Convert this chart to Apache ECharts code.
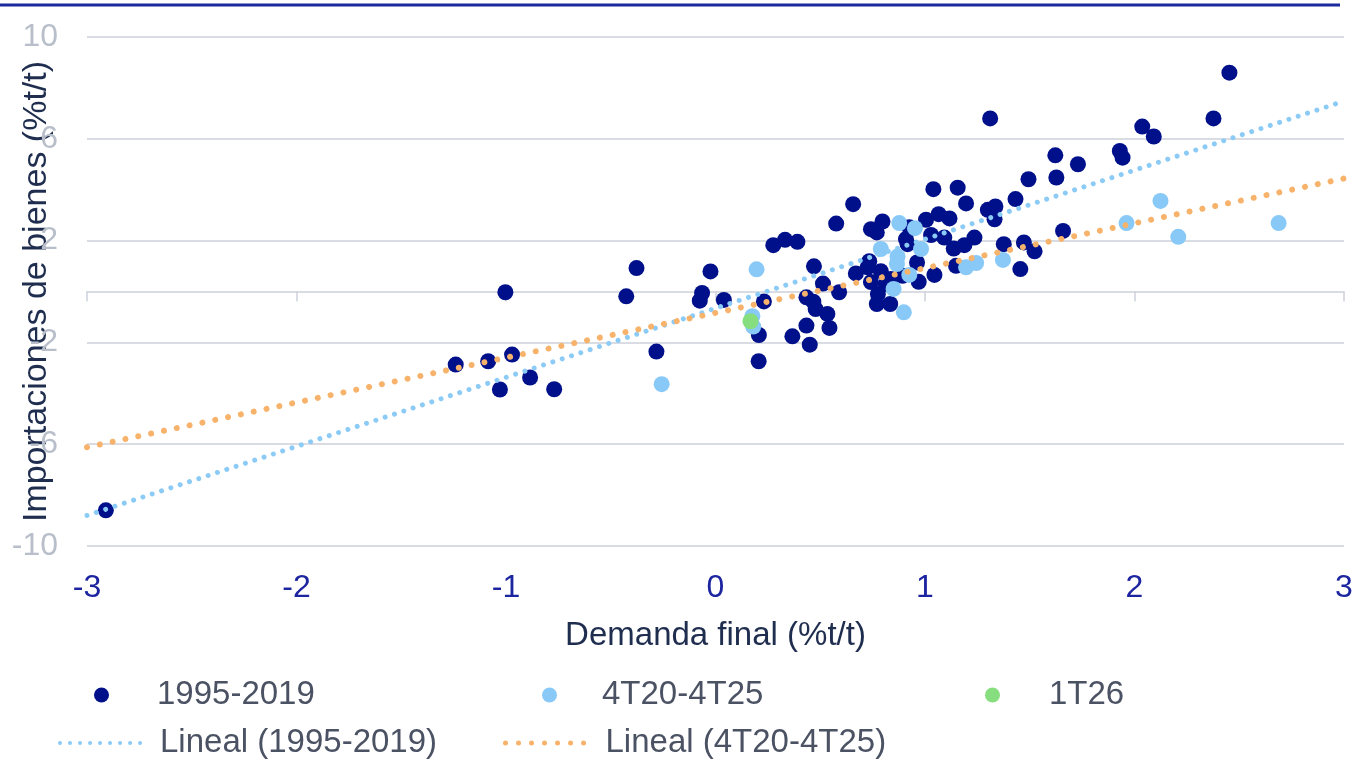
<!DOCTYPE html>
<html lang="es">
<head>
    <meta charset="UTF-8">
    <title>Importaciones de bienes vs demanda final</title>
    <script src="https://cdn.jsdelivr.net/npm/echarts@6/dist/echarts.min.js"></script>
    <style>
        html, body { margin: 0; padding: 0; background: #fff; }
        #main { width: 1355px; height: 760px; }
    </style>
</head>
<body>
<div id="main"></div>
<script>
    // datos: [demanda final, importaciones] en %t/t
    const pts1995 = [
        [-2.91, -8.6],
        [-1.24, -2.87], [-1.085, -2.74], [-0.971, -2.48], [-1.029, -3.85], [-0.885, -3.38], [-0.77, -3.84], [-1.003, -0.03],
        [-0.377, 0.92], [-0.426, -0.19], [-0.282, -2.36],
        [-0.024, 0.79], [-0.064, -0.06], [-0.075, -0.36], [0.04, -0.33],
        [0.231, -0.39], [0.207, -1.71], [0.206, -2.74], [0.367, -1.76],
        [0.276, 1.82], [0.332, 2.03], [0.391, 1.95],
        [0.47, 0.99], [0.576, 2.67], [0.657, 3.43], [0.67, 0.71], [0.513, 0.31], [0.59, -0.03],
        [0.434, -0.23], [0.467, -0.4], [0.478, -0.69], [0.534, -0.88], [0.434, -1.34], [0.544, -1.43], [0.45, -2.09],
        [1.04, 4.02], [1.156, 4.08], [1.196, 3.46], [1.494, 4.41], [1.627, 4.48], [1.622, 5.35], [1.73, 5.0], [1.432, 3.63],
        [1.30, 3.21], [1.336, 3.34], [1.332, 2.84],
        [0.797, 2.75], [0.742, 2.45], [0.77, 2.32],
        [0.925, 2.52], [1.005, 2.82], [1.065, 3.04], [1.117, 2.87], [1.029, 2.22], [1.092, 2.12], [0.909, 2.06],
        [0.917, 1.86], [1.137, 1.69], [1.188, 1.82], [1.236, 2.12],
        [0.734, 1.19], [0.726, 0.95], [0.789, 0.8], [0.742, 0.37], [0.813, 0.29], [0.775, -0.1], [0.837, 0.49],
        [0.962, 1.14], [0.893, 0.62], [0.97, 0.38], [1.045, 0.65],
        [0.77, -0.49], [0.834, -0.49], [1.148, 1.01],
        [1.376, 1.86], [1.472, 1.93], [1.523, 1.58], [1.455, 0.88], [1.659, 2.38],
        [2.453, 8.6], [2.377, 6.8], [2.037, 6.48], [2.092, 6.09], [1.93, 5.52], [1.943, 5.26],
        [1.311, 6.8]
    ];
    const pts2025 = [
        [-0.257, -3.64], [0.196, 0.87], [0.176, -0.97], [0.18, -1.38],
        [0.877, 2.69], [0.952, 2.49], [0.789, 1.67], [0.981, 1.67], [0.869, 1.38], [0.866, 1.08],
        [0.925, 0.65], [0.85, 0.1], [0.899, -0.82],
        [1.196, 0.95], [1.244, 1.12], [1.372, 1.24],
        [2.124, 3.56], [1.962, 2.69], [2.209, 2.15], [2.688, 2.69]
    ];
    const pt1T26 = [[0.167, -1.17]];

    // tendencias lineales (extremos)
    const trend1995 = [[-3, -8.8], [3, 7.48]];
    const trend2025 = [[-3, -6.12], [3, 4.44]];

    const seriesNames = ['1995-2019', '4T20-4T25', '1T26', 'Lineal (1995-2019)', 'Lineal (4T20-4T25)'];

    const font = 'Liberation Sans, Arial, sans-serif';
    const gridColor = '#cdd1da';
    const blueTrend = '#8ccbf6';
    const orangeTrend = '#f7b36b';

    function legendItem(name, left, top, w, h, padLeft, line) {
        let item = {
            data: [name],
            left: left,
            top: top,
            itemWidth: w,
            itemHeight: h,
            padding: 0,
            selectedMode: false,
            textStyle: {
                color: '#4b5263',
                fontSize: 33,
                lineHeight: 34,
                fontFamily: font,
                padding: [0, 0, 0, padLeft]
            }
        };
        if (line) {
            item.itemStyle = {opacity: 0};
            item.lineStyle = line;
        }
        return item;
    }

    let mychart = echarts.init(document.getElementById('main'));
    let option = {
        animation: false,
        backgroundColor: '#fff',
        grid: {
            left: 87,
            right: 11,
            top: 37,
            bottom: 214,
            containLabel: false,
            outerBoundsMode: 'none'
        },
        graphic: [{
            type: 'line',
            shape: {x1: 0, y1: 5, x2: 1340, y2: 5},
            style: {stroke: '#1b2a9c', lineWidth: 3}
        }],
        legend: [
            legendItem(seriesNames[0], 94, 678, 15, 15, 43),
            legendItem(seriesNames[1], 542, 678, 15, 15, 40),
            legendItem(seriesNames[2], 985, 678, 15, 15, 44),
            legendItem(seriesNames[3], 58, 726, 82, 13, 13,
                {color: blueTrend, width: 4, type: [0.01, 10], cap: 'round', opacity: 1}),
            legendItem(seriesNames[4], 503, 726, 84, 13, 11,
                {color: orangeTrend, width: 5, type: [0.01, 13], cap: 'round', opacity: 1})
        ],
        xAxis: [{
            type: 'value',
            min: -3,
            max: 3,
            interval: 1,
            position: 'bottom',
            name: 'Demanda final (%t/t)',
            nameLocation: 'middle',
            nameGap: 73,
            nameTextStyle: {color: '#1f2d4f', fontSize: 33, lineHeight: 34, fontFamily: font},
            axisLine: {show: false, onZero: false},
            axisTick: {show: false},
            splitLine: {show: false},
            axisLabel: {color: '#1c24a0', fontSize: 32, lineHeight: 32, margin: 26, fontFamily: font}
        }, {
            // linea del eje en cero con marcas
            type: 'value',
            min: -3,
            max: 3,
            interval: 1,
            position: 'bottom',
            axisLine: {show: true, onZero: true, lineStyle: {color: gridColor, width: 1.5}},
            axisTick: {show: true, length: 10, lineStyle: {color: gridColor, width: 1.5}},
            axisLabel: {show: false},
            splitLine: {show: false}
        }],
        yAxis: {
            type: 'value',
            min: -10,
            max: 10,
            interval: 4,
            name: 'Importaciones de bienes (%t/t)',
            nameLocation: 'middle',
            nameGap: 33,
            nameMoveOverlap: false,
            nameTextStyle: {color: '#1f2d4f', fontSize: 34, lineHeight: 35, fontFamily: font},
            axisLine: {show: false, onZero: false},
            axisTick: {show: false},
            splitLine: {lineStyle: {color: gridColor, width: 1.5}},
            axisLabel: {color: '#b8bfca', fontSize: 32, margin: 29, fontFamily: font}
        },
        series: [{
            name: seriesNames[0],
            type: 'scatter',
            symbolSize: 16,
            itemStyle: {color: '#00108a', opacity: 1},
            data: pts1995
        }, {
            name: seriesNames[1],
            type: 'scatter',
            symbolSize: 16,
            itemStyle: {color: '#88c9f8', opacity: 1},
            data: pts2025
        }, {
            name: seriesNames[2],
            type: 'scatter',
            symbolSize: 16,
            itemStyle: {color: '#86de7e', opacity: 1},
            data: pt1T26
        }, {
            name: seriesNames[3],
            type: 'line',
            symbol: 'none',
            showSymbol: false,
            itemStyle: {color: blueTrend},
            lineStyle: {color: blueTrend, width: 5, type: [0.01, 9.8], cap: 'round'},
            data: trend1995
        }, {
            name: seriesNames[4],
            type: 'line',
            symbol: 'none',
            showSymbol: false,
            itemStyle: {color: orangeTrend},
            lineStyle: {color: orangeTrend, width: 6, type: [0.01, 13.1], cap: 'round'},
            data: trend2025
        }]
    };
    mychart.setOption(option);
</script>
</body>
</html>
